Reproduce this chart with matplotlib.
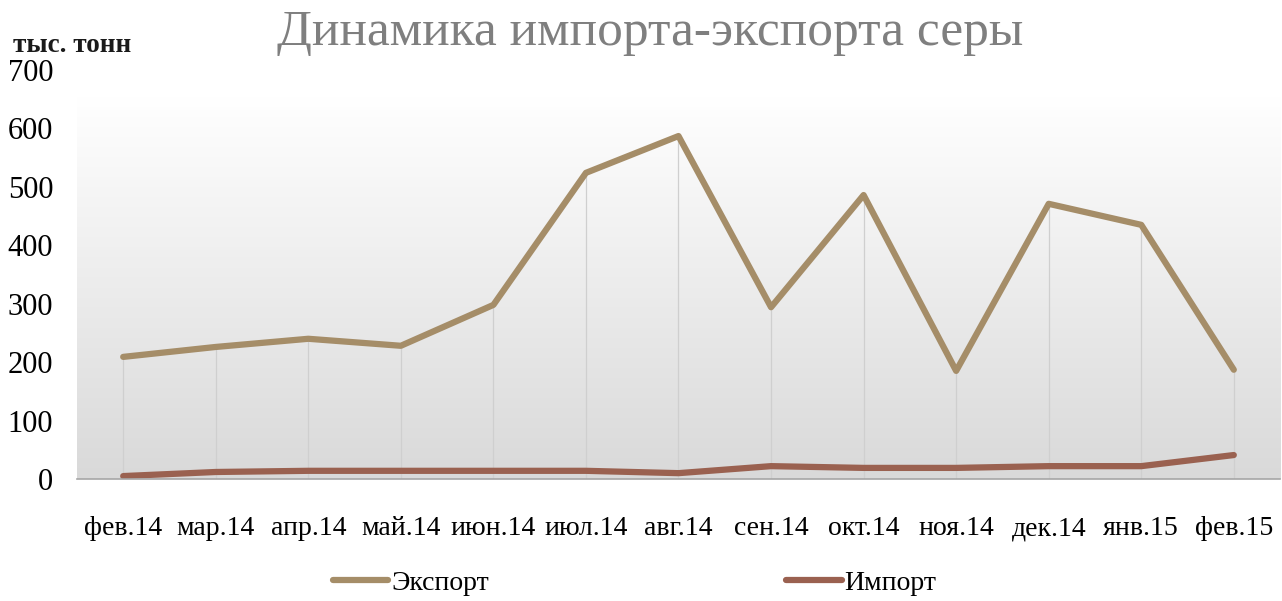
import numpy as np
import matplotlib.pyplot as plt
from matplotlib.colors import LinearSegmentedColormap

# -------- DATA --------
months = ['фев.14', 'мар.14', 'апр.14', 'май.14', 'июн.14', 'июл.14', 'авг.14',
          'сен.14', 'окт.14', 'ноя.14', 'дек.14', 'янв.15', 'фев.15']
export_vals = [209, 226, 240, 228, 298, 524, 587, 294, 486, 185, 471, 435, 187]
import_vals = [5, 12, 14, 14, 14, 14, 10, 22, 19, 19, 22, 22, 41]
yticks = [0, 100, 200, 300, 400, 500, 600, 700]
# ----------------------

EXPORT_COLOR = '#a58d68'
IMPORT_COLOR = '#9a6150'
SERIF = ['Liberation Serif', 'DejaVu Serif']

plt.rcParams['font.family'] = SERIF

fig = plt.figure(figsize=(12.82, 6.01), dpi=100)
ax = fig.add_axes([0.060, 0.203, 0.9385, 0.6805])

x = np.arange(len(months))

# gradient background of plot area
cmap = LinearSegmentedColormap.from_list('bg', ['#d9d9d9', '#ffffff'])
grad = np.linspace(0, 1, 256).reshape(-1, 1)
ax.imshow(grad, cmap=cmap, aspect='auto', origin='lower',
          extent=(-0.5, len(months) - 0.5, 0, 655), zorder=0)

# drop lines
ax.vlines(x, 0, export_vals, color='#cfcfcf', linewidth=0.9, zorder=1)

ax.plot(x, export_vals, color=EXPORT_COLOR, linewidth=4.5, solid_capstyle='round',
        solid_joinstyle='round', label='Экспорт', zorder=3)
ax.plot(x, import_vals, color=IMPORT_COLOR, linewidth=4.5, solid_capstyle='round',
        solid_joinstyle='round', label='Импорт', zorder=3)

ax.set_xlim(-0.5, len(months) - 0.5)
ax.set_ylim(0, 700)
ax.set_yticks(yticks)
ax.set_yticklabels([str(v) for v in yticks], fontsize=22)
ax.set_xticks(x)
ax.set_xticklabels(months, fontsize=20)
ax.tick_params(axis='both', length=0)
ax.tick_params(axis='x', pad=27)
ax.tick_params(axis='y', pad=17)

for side in ['left', 'right', 'top']:
    ax.spines[side].set_visible(False)
ax.spines['bottom'].set_color('#a6a6a6')
ax.spines['bottom'].set_linewidth(1.2)
ax.spines['bottom'].set_zorder(4)

fig.text(0.507, 0.945, 'Динамика импорта-экспорта серы', ha='center', va='center',
         fontsize=37, color='#7f7f7f')
fig.text(0.010, 0.925, 'тыс. тонн', ha='left', va='center', fontsize=19.5,
         fontweight='bold', color='#1a1a1a')

fig.legend(loc='center', bbox_to_anchor=(0.495, 0.03), ncol=2, frameon=False,
           fontsize=20, handlelength=2.0, handletextpad=0.1, columnspacing=10.7)

fig.savefig('out.png', dpi=100)
